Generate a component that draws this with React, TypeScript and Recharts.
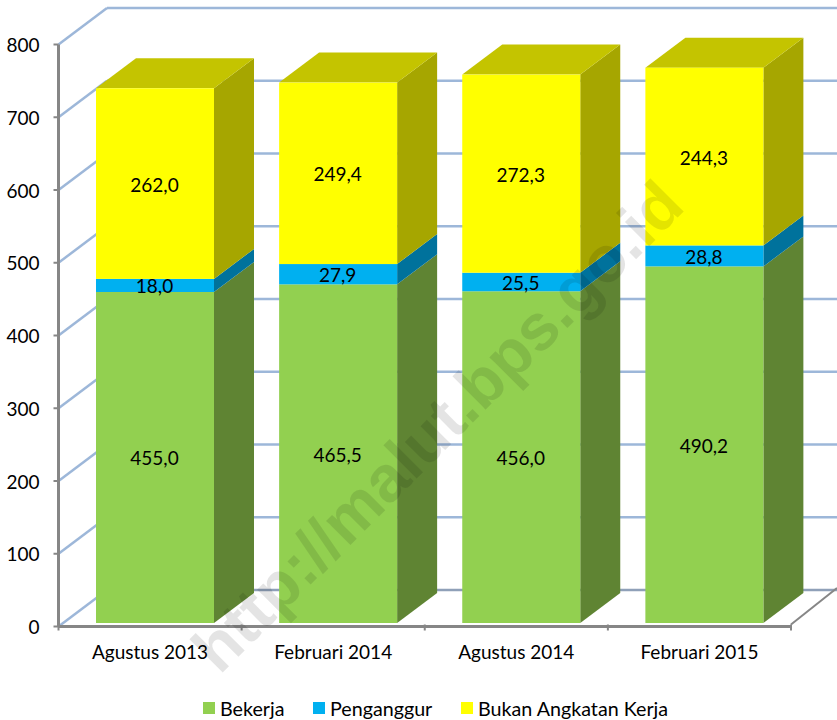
import { BarChart, Bar, XAxis, YAxis, CartesianGrid, Legend, LabelList } from "recharts";

const categories = ["Agustus 2013", "Februari 2014", "Agustus 2014", "Februari 2015"];
const bekerja = [455.0, 465.5, 456.0, 490.2];
const penganggur = [18.0, 27.9, 25.5, 28.8];
const bukanAngkatanKerja = [262.0, 249.4, 272.3, 244.3];
const yTicks = [0, 100, 200, 300, 400, 500, 600, 700, 800];

const data = categories.map((name, i) => ({
  name,
  bekerja: bekerja[i],
  penganggur: penganggur[i],
  bukan: bukanAngkatanKerja[i],
}));

const WIDTH = 837;
const HEIGHT = 720;
const FONT = "Lato, 'Open Sans', sans-serif";
const AXIS_COLOR = "#868686";
const GRID_COLOR = "#9DB7D9";
const FLOOR_COLOR = "#8FA0B8";
const PLOT_LEFT = 58.5;
const PLOT_RIGHT = 791;
const STEP = (PLOT_RIGHT - PLOT_LEFT) / categories.length;
// depth of the fake 3D box
const WALL_DX = 48.5;
const WALL_DY = 36.5;
const BAR_DX = 40;
const BAR_DY = 30;
// bars sit slightly in front of the wall, off the axis origin
const BAR_SHIFT_X = 4.5;
const BAR_SHIFT_Y = 3.5;
const LEGEND_X = [203, 313, 461];

function makeBox(sideColor: string, topColor?: string) {
  return function Box(props: any) {
    const { x, y, width, height, fill } = props;
    const l = x + BAR_SHIFT_X;
    const r = l + width;
    const t = y - BAR_SHIFT_Y;
    const b = t + height;
    return (
      <g>
        <polygon
          points={`${r},${t} ${r + BAR_DX},${t - BAR_DY} ${r + BAR_DX},${b - BAR_DY} ${r},${b}`}
          fill={sideColor}
        />
        {topColor && (
          <polygon
            points={`${l},${t} ${l + BAR_DX},${t - BAR_DY} ${r + BAR_DX},${t - BAR_DY} ${r},${t}`}
            fill={topColor}
          />
        )}
        <rect x={l} y={t} width={width} height={height} fill={fill} />
      </g>
    );
  };
}

function GridLine(props: any) {
  const { x1, x2, y1, index } = props;
  const isFloor = y1 > 620;
  const wallY = y1 - WALL_DY;
  return (
    <g key={`grid-${index}-${y1}`}>
      <line x1={x1} y1={y1} x2={x1 + WALL_DX} y2={wallY} stroke={GRID_COLOR} strokeWidth={2.5} />
      <line
        x1={x1 + WALL_DX}
        y1={wallY}
        x2={x2 + 46}
        y2={wallY}
        stroke={isFloor ? FLOOR_COLOR : GRID_COLOR}
        strokeWidth={2.5}
      />
    </g>
  );
}

function CategoryTick(props: any) {
  const { x, y, payload, index } = props;
  const axisY = y - 10;
  return (
    <g>
      <line x1={x + STEP / 2} y1={axisY} x2={x + STEP / 2} y2={axisY + 6} stroke={AXIS_COLOR} strokeWidth={2} />
      {index === 0 && (
        <line x1={x - STEP / 2} y1={axisY} x2={x - STEP / 2} y2={axisY + 6} stroke={AXIS_COLOR} strokeWidth={2} />
      )}
      {index === categories.length - 1 && (
        <line x1={x + STEP / 2} y1={axisY} x2={x + STEP / 2 + 46} y2={axisY - WALL_DY} stroke={AXIS_COLOR} strokeWidth={2} />
      )}
      <text x={x} y={y + 24} textAnchor="middle" fill="#000" fontSize={19} fontFamily={FONT}>
        {payload.value}
      </text>
    </g>
  );
}

function ValueLabel(props: any) {
  const { x, y, width, height, value } = props;
  return (
    <text
      x={x + BAR_SHIFT_X + width / 2 - 0.5}
      y={y - BAR_SHIFT_Y + height / 2 + 8}
      textAnchor="middle"
      fill="#000"
      fontSize={19}
      fontFamily={FONT}
    >
      {value.toFixed(1).replace(".", ",")}
    </text>
  );
}

function LegendBox(props: any) {
  return (
    <div style={{ position: "relative", height: 24, fontFamily: FONT, fontSize: 19.7, color: "#000" }}>
      {props.payload.map((item: any, i: number) => (
        <div
          key={item.value}
          style={{ position: "absolute", left: LEGEND_X[i], top: 0, height: 24, display: "flex", alignItems: "center", whiteSpace: "nowrap" }}
        >
          <span style={{ width: 12, height: 12, background: item.color, marginRight: 5 }} />
          {item.value}
        </div>
      ))}
    </div>
  );
}

export default function App() {
  return (
    <div style={{ position: "absolute", left: 0, top: 0, width: WIDTH, height: HEIGHT, background: "#fff" }}>
      <BarChart
        width={WIDTH}
        height={HEIGHT}
        data={data}
        barSize={118}
        margin={{ top: 44.5, right: WIDTH - PLOT_RIGHT, bottom: 39.5, left: 0 }}
      >
        <CartesianGrid vertical={false} horizontal={GridLine as never} />
        <XAxis
          dataKey="name"
          height={30}
          axisLine={{ stroke: AXIS_COLOR, strokeWidth: 3 }}
          tickLine={false}
          tick={CategoryTick as never}
          interval={0}
        />
        <YAxis
          width={PLOT_LEFT}
          domain={[0, 800]}
          ticks={yTicks}
          interval={0}
          axisLine={{ stroke: AXIS_COLOR, strokeWidth: 3 }}
          tickLine={{ stroke: AXIS_COLOR, strokeWidth: 2 }}
          tickSize={5}
          tickMargin={14}
          tick={{ fill: "#000", fontSize: 19, fontFamily: FONT, dy: 1 }}
        />
        <Legend
          content={LegendBox as never}
          itemSorter={null}
          wrapperStyle={{ left: 0, top: 696, bottom: "auto", width: WIDTH, height: 24 }}
        />
        <Bar dataKey="bekerja" name="Bekerja" stackId="a" fill="#92D050" shape={makeBox("#5F8433")} isAnimationActive={false}>
          <LabelList dataKey="bekerja" content={ValueLabel as never} />
        </Bar>
        <Bar dataKey="penganggur" name="Penganggur" stackId="a" fill="#00B0F0" shape={makeBox("#00729C")} isAnimationActive={false}>
          <LabelList dataKey="penganggur" content={ValueLabel as never} />
        </Bar>
        <Bar dataKey="bukan" name="Bukan Angkatan Kerja" stackId="a" fill="#FFFF00" shape={makeBox("#A6A600", "#C4C400")} isAnimationActive={false}>
          <LabelList dataKey="bukan" content={ValueLabel as never} />
        </Bar>
      </BarChart>
      <svg
        width={WIDTH}
        height={HEIGHT}
        style={{ position: "absolute", left: 0, top: 0, pointerEvents: "none" }}
      >
        <text
          x={439}
          y={448}
          transform="rotate(-45 439 428)"
          textAnchor="middle"
          fontFamily="'Liberation Sans', sans-serif"
          fontWeight="bold"
          fontSize={65}
          fill="rgba(0,0,0,0.105)"
        >
          http://malut.bps.go.id
        </text>
      </svg>
    </div>
  );
}
